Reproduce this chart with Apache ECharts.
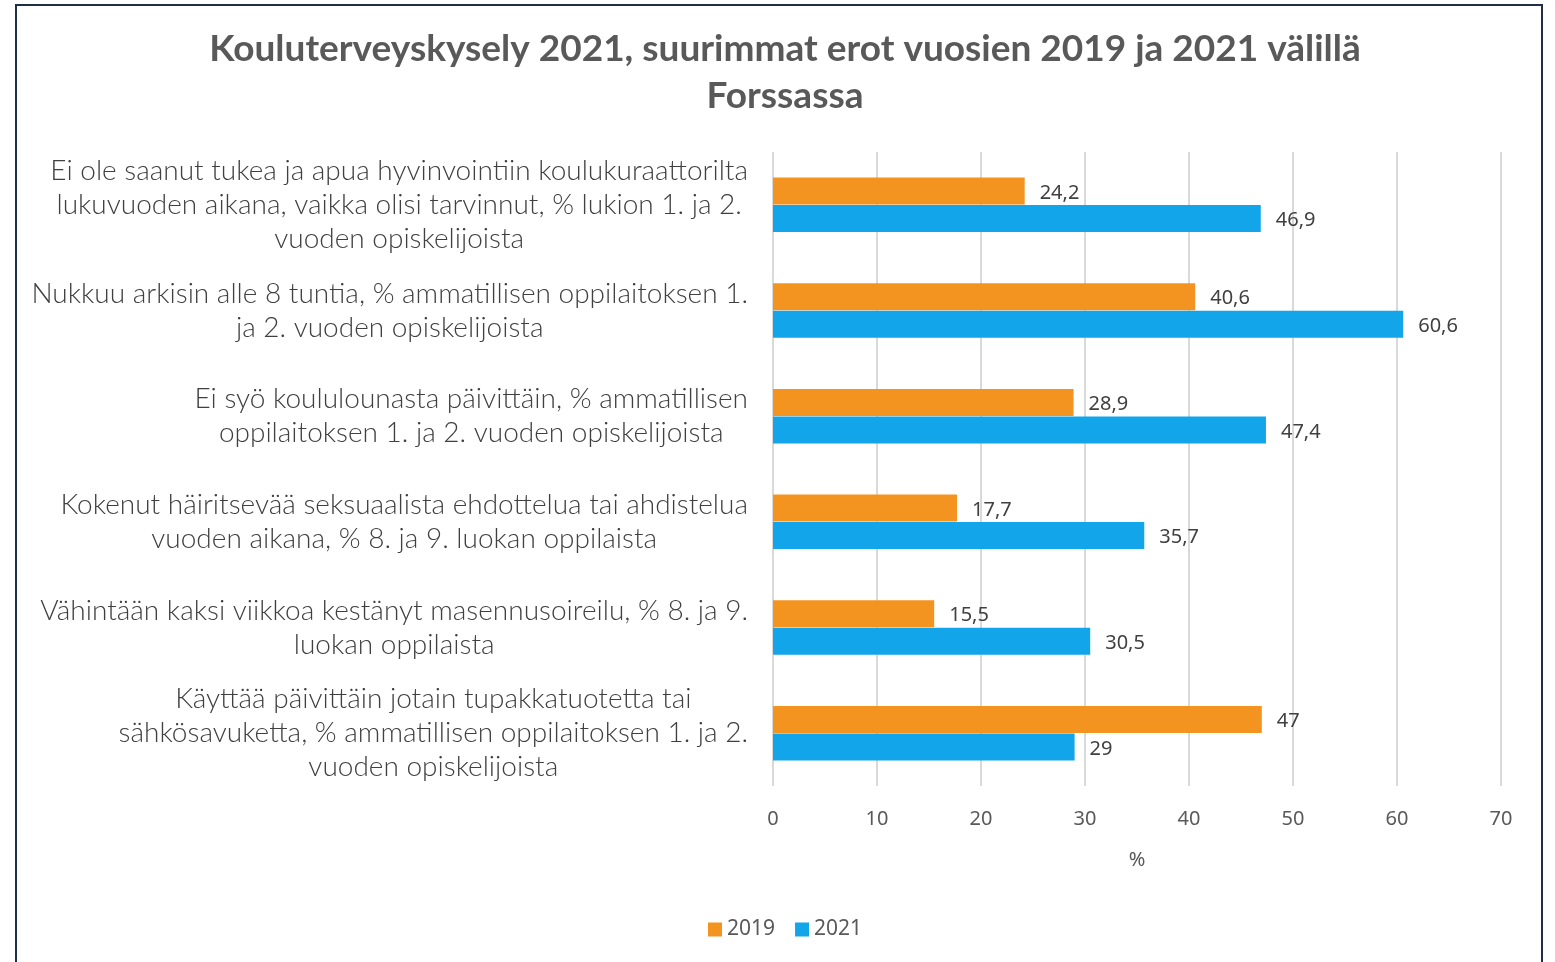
<!DOCTYPE html>
<html>
<head>
<meta charset="utf-8">
<script src="https://cdn.jsdelivr.net/npm/echarts@6/dist/echarts.min.js"></script>
<style>
  html, body { margin: 0; padding: 0; background: #fff; overflow: hidden; }
  #chart { position: absolute; left: 0; top: 0; width: 1555px; height: 962px; }
  #frame { position: absolute; left: 15px; top: 4px; width: 1524px; height: 990px; border: 2px solid #1f2f46; pointer-events: none; }
</style>
</head>
<body>
<div id="chart"></div>
<div id="frame"></div>
<script>
// kysymykset (rivitetty kuten alkuperäisessä)
const categories = [
  'Ei ole saanut tukea ja apua hyvinvointiin koulukuraattorilta\nlukuvuoden aikana, vaikka olisi tarvinnut, % lukion 1. ja 2.\nvuoden opiskelijoista',
  'Nukkuu arkisin alle 8 tuntia, % ammatillisen oppilaitoksen 1.\nja 2. vuoden opiskelijoista',
  'Ei syö koululounasta päivittäin, % ammatillisen\noppilaitoksen 1. ja 2. vuoden opiskelijoista',
  'Kokenut häiritsevää seksuaalista ehdottelua tai ahdistelua\nvuoden aikana, % 8. ja 9. luokan oppilaista',
  'Vähintään kaksi viikkoa kestänyt masennusoireilu, % 8. ja 9.\nluokan oppilaista',
  'Käyttää päivittäin jotain tupakkatuotetta tai\nsähkösavuketta, % ammatillisen oppilaitoksen 1. ja 2.\nvuoden opiskelijoista'
];
const values2019 = [24.2, 40.6, 28.9, 17.7, 15.5, 47];
const values2021 = [46.9, 60.6, 47.4, 35.7, 30.5, 29];
const seriesNames = ['2019', '2021'];
const xTicks = { min: 0, max: 70, interval: 10 };

const chart = echarts.init(document.getElementById('chart'));

const fmt = (p) => String(p.value).replace('.', ',');

// rivit keskitetään lohkon sisällä, lohko tasataan oikealle
const catLabel = (v) => v.split('\n').map((l) => '{c|' + l + '}').join('\n');

const valueLabel = {
  show: true,
  position: 'right',
  distance: 15,
  offset: [0, 2],
  formatter: fmt,
  fontFamily: 'Noto Sans',
  fontSize: 20,
  color: '#404040'
};

chart.setOption({
  backgroundColor: '#fff',
  animation: false,
  title: {
    text: 'Kouluterveyskysely 2021, suurimmat erot vuosien 2019 ja 2021 välillä\nForssassa',
    left: 780,
    top: 21,
    textAlign: 'center',
    textStyle: {
      fontFamily: 'Lato',
      fontWeight: 'bold',
      fontSize: 37,
      lineHeight: 47,
      color: '#595959'
    }
  },
  legend: {
    bottom: 17,
    left: 703,
    itemWidth: 14,
    itemHeight: 14,
    itemGap: 20,
    icon: 'rect',
    textStyle: { fontFamily: 'Noto Sans', fontSize: 21, color: '#595959' },
    data: seriesNames
  },
  grid: { left: 773, right: 54, top: 152, bottom: 176, containLabel: false },
  xAxis: {
    type: 'value',
    min: xTicks.min,
    max: xTicks.max,
    interval: xTicks.interval,
    name: '%',
    nameLocation: 'middle',
    nameGap: 64,
    nameTextStyle: { fontFamily: 'Noto Sans', fontSize: 20, color: '#595959' },
    axisLine: { show: false },
    axisTick: { show: false },
    axisLabel: { fontFamily: 'Noto Sans', fontSize: 20, color: '#595959', margin: 23 },
    splitLine: { lineStyle: { color: '#d9d9d9', width: 2 } }
  },
  yAxis: {
    type: 'category',
    inverse: true,
    data: categories,
    axisLine: { show: false },
    axisTick: { show: false },
    axisLabel: {
      align: 'right',
      margin: 25,
      formatter: catLabel,
      rich: {
        c: {
          align: 'center',
          fontFamily: 'Lato',
          fontWeight: 300,
          fontSize: 28,
          lineHeight: 34,
          color: '#404040'
        }
      }
    }
  },
  series: [
    {
      name: seriesNames[0],
      type: 'bar',
      data: values2019,
      barWidth: 27,
      barGap: '2%',
      itemStyle: { color: '#f39420' },
      label: valueLabel
    },
    {
      name: seriesNames[1],
      type: 'bar',
      data: values2021,
      barWidth: 27,
      itemStyle: { color: '#12a5ea' },
      label: valueLabel
    }
  ]
});
</script>
</body>
</html>
